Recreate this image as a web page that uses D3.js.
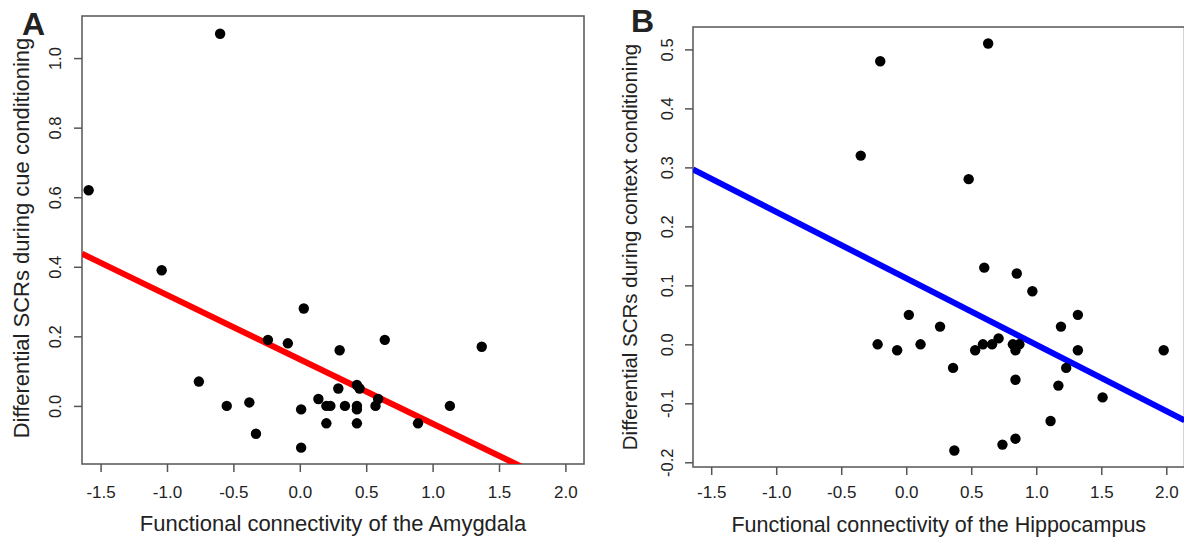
<!DOCTYPE html>
<html>
<head>
<meta charset="utf-8">
<script src="https://cdn.jsdelivr.net/npm/d3@7"></script>
<style>
  body { margin: 0; background: #fff; }
  svg { display: block; font-family: "Liberation Sans", Arial, sans-serif; }
  .tick text { fill: #222; }
</style>
</head>
<body>
<script>
// panel A: amygdala connectivity vs cue conditioning SCRs
var amyX = [-0.60, -1.59, -1.04, 0.03, -0.24, -0.09, 0.64, 0.30, 1.37, -0.76,
            0.29, 0.43, 0.45, 0.14, 0.59, -0.55, -0.38, 0.01, 0.20, 0.23,
            0.34, 0.43, 0.43, 0.57, 1.13, 0.20, 0.43, 0.89, -0.33, 0.01];
var amyY = [1.07, 0.62, 0.39, 0.28, 0.19, 0.18, 0.19, 0.16, 0.17, 0.07,
            0.05, 0.06, 0.05, 0.02, 0.02, 0.00, 0.01, -0.01, 0.00, 0.00,
            0.00, 0.00, -0.01, 0.00, 0.00, -0.05, -0.05, -0.05, -0.08, -0.12];

// panel B: hippocampus connectivity vs context conditioning SCRs
var hipX = [0.63, -0.20, -0.35, 0.48, 0.60, 0.85, 0.97, 0.02, 1.32, 0.26,
            1.19, -0.22, -0.07, 0.11, 0.53, 0.59, 0.66, 0.71, 0.82, 0.84,
            0.87, 1.32, 1.98, 0.36, 1.23, 0.84, 1.17, 1.51, 1.11, 0.84,
            0.74, 0.37];
var hipY = [0.51, 0.48, 0.32, 0.28, 0.13, 0.12, 0.09, 0.05, 0.05, 0.03,
            0.03, 0.00, -0.01, 0.00, -0.01, 0.00, 0.00, 0.01, 0.00, -0.01,
            0.00, -0.01, -0.01, -0.04, -0.04, -0.06, -0.07, -0.09, -0.13, -0.16,
            -0.17, -0.18];

// fitted lines (intercept, slope)
var amyFit = [0.134, -0.185];
var hipFit = [0.112, -0.1125];

var xTicks = [-1.5, -1.0, -0.5, 0.0, 0.5, 1.0, 1.5, 2.0];
var amyYTicks = [0.0, 0.2, 0.4, 0.6, 0.8, 1.0];
var hipYTicks = [-0.2, -0.1, 0.0, 0.1, 0.2, 0.3, 0.4, 0.5];

var svg = d3.select("body").append("svg")
    .attr("width", 1184)
    .attr("height", 539);

// R style labels: plain hyphen for negatives
var fmt = function(d) { return d3.format(".1f")(d).replace("\u2212", "-"); };

function drawPanel(opt) {
    var x = d3.scaleLinear().domain([-1.64, 2.14]).range([opt.left, opt.right]);
    var y = d3.scaleLinear().domain(opt.yDomain).range([opt.bottom, opt.top]);

    var g = svg.append("g");

    var clipId = "clip" + opt.letter;
    g.append("clipPath").attr("id", clipId)
        .append("rect")
        .attr("x", opt.left).attr("y", opt.top)
        .attr("width", opt.right - opt.left).attr("height", opt.bottom - opt.top);

    // x axis
    var xAxis = g.append("g")
        .attr("transform", "translate(0," + opt.bottom + ")")
        .call(d3.axisBottom(x).tickValues(xTicks).tickFormat(fmt).tickSize(8).tickPadding(opt.xPad));
    xAxis.select(".domain").remove();
    xAxis.selectAll("line").attr("stroke", "#555").attr("stroke-width", 1.5);
    xAxis.selectAll("text").attr("font-size", 17).attr("font-family", "Liberation Sans, Arial");

    // y axis, labels rotated like base R
    var yAxis = g.append("g")
        .attr("transform", "translate(" + opt.left + ",0)")
        .call(d3.axisLeft(y).tickValues(opt.yTicks).tickFormat(fmt).tickSize(8));
    yAxis.select(".domain").remove();
    yAxis.selectAll("line").attr("stroke", "#555").attr("stroke-width", 1.5);
    yAxis.selectAll("text")
        .attr("font-size", 16.5)
        .attr("font-family", "Liberation Sans, Arial")
        .attr("text-anchor", "middle")
        .attr("dy", 0)
        .attr("x", 0)
        .attr("transform", "translate(" + (-opt.tickLabelGap) + ",0) rotate(-90)");

    // box
    g.append("rect")
        .attr("x", opt.left).attr("y", opt.top)
        .attr("width", opt.right - opt.left).attr("height", opt.bottom - opt.top)
        .attr("fill", "none").attr("stroke", "#555").attr("stroke-width", 1.5);

    // regression line
    var x0 = x.domain()[0], x1 = x.domain()[1];
    g.append("line")
        .attr("clip-path", "url(#" + clipId + ")")
        .attr("x1", x(x0)).attr("y1", y(opt.fit[0] + opt.fit[1] * x0))
        .attr("x2", x(x1)).attr("y2", y(opt.fit[0] + opt.fit[1] * x1))
        .attr("stroke", opt.lineColor).attr("stroke-width", 6);

    // points
    g.selectAll("circle.pt")
        .data(d3.range(opt.xs.length))
        .enter().append("circle")
        .attr("class", "pt")
        .attr("cx", function(i) { return x(opt.xs[i]); })
        .attr("cy", function(i) { return y(opt.ys[i]); })
        .attr("r", 5.2)
        .attr("fill", "#000");

    // axis titles
    g.append("text")
        .attr("x", (opt.left + opt.right) / 2)
        .attr("y", opt.titleY)
        .attr("text-anchor", "middle")
        .attr("font-size", opt.titleSize)
        .attr("fill", "#222")
        .text(opt.xLabel);

    g.append("text")
        .attr("transform", "translate(" + opt.yLabelX + "," + opt.yLabelY + ") rotate(-90)")
        .attr("text-anchor", "middle")
        .attr("font-size", opt.yLabelSize)
        .attr("fill", "#222")
        .text(opt.yLabel);

    // panel letter
    g.append("text")
        .attr("x", opt.letterX).attr("y", opt.letterY)
        .attr("font-size", 32)
        .attr("font-weight", "bold")
        .attr("fill", "#222")
        .text(opt.letter);
}

drawPanel({
    letter: "A", letterX: 22, letterY: 35,
    left: 82, right: 584, top: 16, bottom: 464,
    yDomain: [-0.167, 1.121],
    yTicks: amyYTicks,
    xs: amyX, ys: amyY, fit: amyFit, lineColor: "#ff0000",
    tickLabelGap: 21, yLabelX: 29, yLabelY: 238, yLabelSize: 22,
    xPad: 14, titleY: 531, titleSize: 22,
    xLabel: "Functional connectivity of the Amygdala",
    yLabel: "Differential SCRs during cue conditioning"
});

drawPanel({
    letter: "B", letterX: 631, letterY: 32,
    left: 693, right: 1184.5, top: 27, bottom: 467,
    yDomain: [-0.208, 0.538],
    yTicks: hipYTicks,
    xs: hipX, ys: hipY, fit: hipFit, lineColor: "#0000ff",
    tickLabelGap: 20, yLabelX: 637, yLabelY: 247, yLabelSize: 20.5,
    xPad: 11, titleY: 532, titleSize: 21.5,
    xLabel: "Functional connectivity of the Hippocampus",
    yLabel: "Differential SCRs during context conditioning"
});
</script>
</body>
</html>
